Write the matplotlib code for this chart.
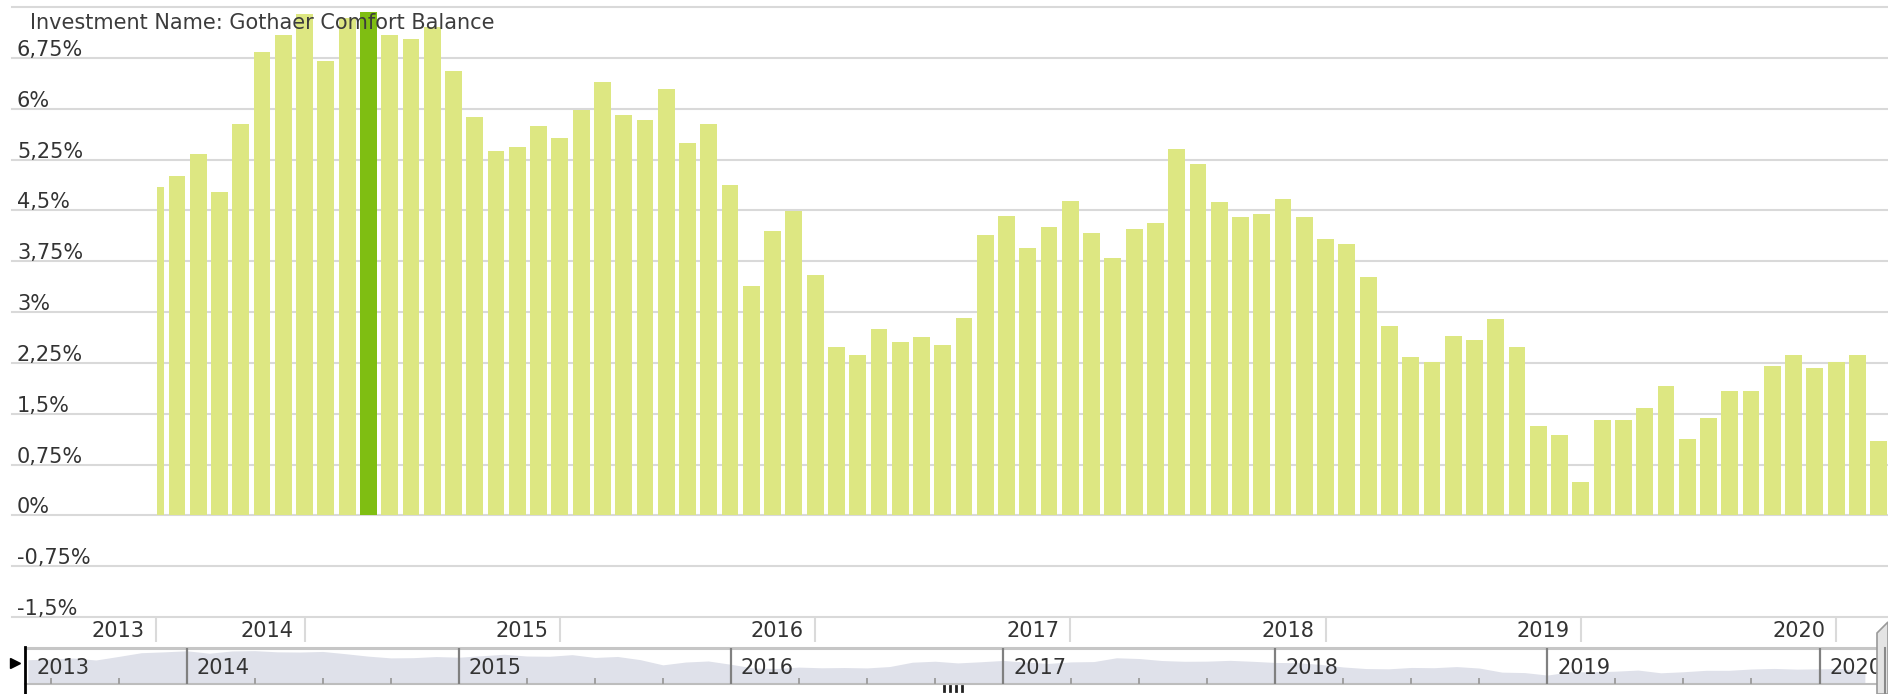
import numpy as np
import pandas as pd
import matplotlib
matplotlib.use("Agg")
import matplotlib.pyplot as plt
import matplotlib.transforms as mtransforms
from matplotlib.patches import Rectangle, Polygon
from matplotlib.lines import Line2D

# monthly figures, Jun 2013 .. Mar 2020 (percent)
months = pd.date_range("2013-06-01", periods=82, freq="MS")
values = [4.85, 5.00, 5.33, 4.77, 5.78, 6.84, 7.08, 7.39, 6.70, 7.34,
          7.43, 7.09, 7.03, 7.20, 6.56, 5.87, 5.37, 5.43, 5.75, 5.56,
          5.98, 6.40, 5.90, 5.83, 6.29, 5.49, 5.77, 4.87, 3.39, 4.19,
          4.49, 3.55, 2.49, 2.36, 2.75, 2.56, 2.63, 2.52, 2.91, 4.14,
          4.42, 3.94, 4.26, 4.64, 4.17, 3.80, 4.23, 4.32, 5.40, 5.19,
          4.62, 4.40, 4.44, 4.67, 4.40, 4.07, 4.01, 3.52, 2.79, 2.34,
          2.26, 2.65, 2.58, 2.90, 2.48, 1.32, 1.19, 0.49, 1.40, 1.41,
          1.59, 1.91, 1.13, 1.43, 1.84, 1.84, 2.21, 2.37, 2.17, 2.26,
          2.36, 1.09]
highlight = 10  # the darker bar

ytick_vals = [6.75, 6.0, 5.25, 4.5, 3.75, 3.0, 2.25, 1.5, 0.75, 0.0, -0.75, -1.5]
ytick_labels = ["6,75%", "6%", "5,25%", "4,5%", "3,75%", "3%", "2,25%",
                "1,5%", "0,75%", "0%", "-0,75%", "-1,5%"]
title = "Investment Name: Gothaer Comfort Balance"

LIGHT = "#dde782"
DARK = "#7fbe12"
GRID = "#d9d9d9"
TXT = "#333333"
FS = 15

W, H = 1888, 694
def fx(px):
    return px / W
def fy(py):
    return 1 - py / H

fig = plt.figure(figsize=(W / 100, H / 100), dpi=100)
plt.rcParams["font.family"] = ["DejaVu Sans"]

x = np.arange(len(values))
years = [m.year for m in months]
jan_idx = [i for i, m in enumerate(months) if m.month == 1]
minor_idx = [i for i, m in enumerate(months) if m.month in (4, 7, 10)]

# ---- main chart
ax = fig.add_axes([fx(12), fy(617), fx(1888) - fx(12), fy(7) - fy(617)])
ax.set_xlim(-6.756, 81.44)
ax.set_ylim(-1.5, 7.5)
ax.axis("off")
for lev in ytick_vals + [7.5]:
    ax.axhline(lev, color=GRID, lw=1.5, zorder=1, clip_on=False)

lab_tr = mtransforms.offset_copy(ax.get_yaxis_transform(), fig=fig, x=5, y=2, units="dots")
for lev, lab in zip(ytick_vals, ytick_labels):
    ax.text(0, lev, lab, transform=lab_tr, ha="left", va="baseline",
            fontsize=FS, color=TXT)

colors = [DARK if i == highlight else LIGHT for i in x]
bars = ax.bar(x, values, width=0.79, color=colors, linewidth=0, zorder=3)
clip = Rectangle((0.04, -2), 100, 12, transform=ax.transData)
for b in bars:
    b.set_clip_path(clip)

fig.text(fx(30), fy(29), title, fontsize=FS, color="#3c3c3c", va="baseline", zorder=5)

# ---- x axis band with years
axb = fig.add_axes([fx(12), fy(645), fx(1888) - fx(12), fy(617) - fy(645)])
axb.set_xlim(ax.get_xlim())
axb.set_ylim(0, 1)
axb.axis("off")
sep_idx = [0] + jan_idx
sep_lab = [str(years[0])] + [str(years[i]) for i in jan_idx]
axb.vlines(sep_idx, 0.107, 0.964, color="#dadada", lw=1.5)
ltr = mtransforms.offset_copy(axb.transData, fig=fig, x=-11, y=0, units="dots")
for s, lab in zip(sep_idx, sep_lab):
    axb.text(s, 0.5, lab, transform=ltr, ha="right", va="center",
             fontsize=FS, color=TXT)

# ---- navigator
axn = fig.add_axes([fx(25), fy(684), fx(1888) - fx(25), fy(648) - fy(684)])
axn.set_xlim(-0.125, 82.02)
axn.set_ylim(-2.05, 8.18)
axn.fill_between(x, values, -2.05, color="#dfe1ea", lw=0, zorder=1)
axn.vlines(jan_idx, -2.05, 8.18, color="#808080", lw=1.6, zorder=3)
axn.vlines(minor_idx, -2.05, -0.45, color="#a0a0a0", lw=1.4, zorder=3)
axn.set_xticks([])
axn.set_yticks([])
for side in ("left", "right"):
    axn.spines[side].set_visible(False)
axn.spines["top"].set_color("#c6c6c6")
axn.spines["top"].set_linewidth(2.2)
axn.spines["bottom"].set_color("#bdbdbd")
axn.spines["bottom"].set_linewidth(1.5)
ntr = mtransforms.offset_copy(axn.transData, fig=fig, x=10, y=0, units="dots")
for j in jan_idx:
    axn.text(j, 2.5, str(years[j]), transform=ntr, ha="left", va="center",
             fontsize=FS, color=TXT, zorder=4)
axn.text(0, 2.5, str(years[0]),
         transform=mtransforms.offset_copy(axn.get_yaxis_transform(), fig=fig, x=12, y=0, units="dots"),
         ha="left", va="center", fontsize=FS, color=TXT, zorder=4)

# handles and scrollbar bits
fig.add_artist(Line2D([fx(25), fx(25)], [fy(647), fy(694)], color="black", lw=2))
fig.add_artist(Line2D([fx(15)], [fy(663)], marker=">", ms=7, color="black", lw=0))
for gx in (944, 950, 956, 962):
    fig.add_artist(Line2D([fx(gx), fx(gx)], [fy(686), fy(691)], color="#222222", lw=2))
fig.add_artist(Polygon([(fx(1877), fy(633)), (fx(1888), fy(622)), (fx(1888), fy(694)),
                        (fx(1877), fy(694))], closed=True, facecolor="#e4e4e4",
                       edgecolor="#9a9a9a", lw=1.2, transform=fig.transFigure, zorder=6))
fig.add_artist(Line2D([fx(1885), fx(1885)], [fy(648), fy(694)], color="#8a8a8a", lw=1.5, zorder=7))

fig.savefig("out.png", dpi=100)
